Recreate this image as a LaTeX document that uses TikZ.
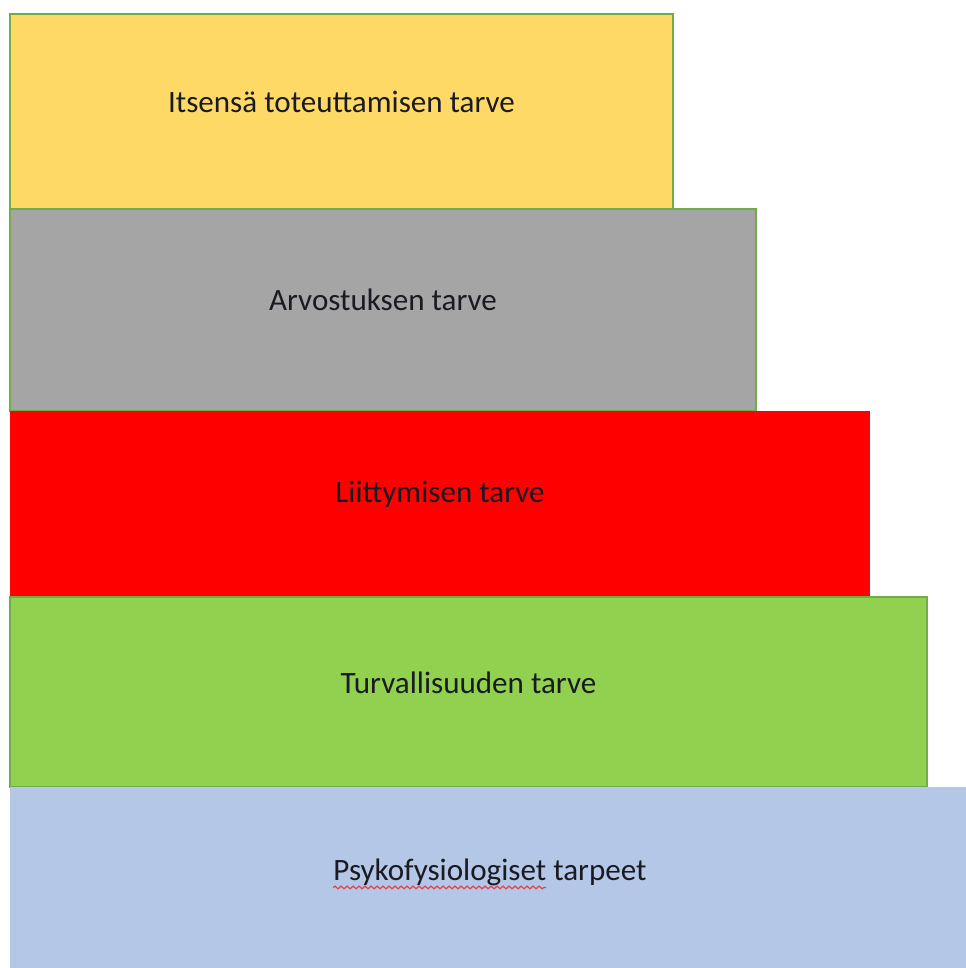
\documentclass[tikz,border=0pt]{standalone}
\usepackage{fontspec}
\setmainfont{Carlito}
\usetikzlibrary{positioning, decorations.pathmorphing}

\definecolor{lvlyellow}{HTML}{FFD966}
\definecolor{lvlgray}{HTML}{A5A5A5}
\definecolor{lvlred}{HTML}{FF0000}
\definecolor{lvlgreen}{HTML}{92D050}
\definecolor{lvlblue}{HTML}{B4C7E7}
\definecolor{edgegreen}{HTML}{70AD47}
\definecolor{txtdark}{HTML}{1A1A22}
\definecolor{wavyred}{HTML}{E8414A}

\newlength\wavyw
\settowidth\wavyw{\fontsize{23.3pt}{28pt}\selectfont Psykofysiologiset}

\begin{document}
\begin{tikzpicture}[x=0.75pt, y=-0.75pt,
	stepbox/.style={rectangle, draw=edgegreen, line width=2pt, inner sep=0pt, outer sep=0pt, anchor=north west},
	lbl/.style={inner sep=0pt, text=txtdark, font=\fontsize{23.3pt}{28pt}\selectfont}]
	\useasboundingbox (0,0) rectangle (966,968);
	\clip (0,0) rectangle (966,968);
	\node[stepbox, fill=lvlyellow, minimum width=497.25pt, minimum height=146.25pt] (itsensa) at (10,14) {};
	\node[stepbox, fill=lvlgray, minimum width=559.5pt, minimum height=151.5pt, below=0pt of itsensa.south west, anchor=north west] (arvostus) {};
	\node[stepbox, fill=lvlred, draw=none, minimum width=645pt, minimum height=139.5pt, below=0pt of arvostus.south west, anchor=north west] (liittyminen) {};
	\node[stepbox, fill=lvlgreen, minimum width=687.75pt, minimum height=142.5pt, below=0pt of liittyminen.south west, anchor=north west] (turva) {};
	\node[stepbox, fill=lvlblue, draw=none, minimum width=740pt, minimum height=150pt, below=0pt of turva.south west, anchor=north west] (psyko) {};
	% texts
	\node[lbl] (itsensaT) at ([yshift=7pt]itsensa.center) {Itsensä toteuttamisen tarve};
	\node[lbl] (arvostusT) at ([yshift=8pt]arvostus.center) {Arvostuksen tarve};
	\node[lbl] (liittyminenT) at ([yshift=7pt]liittyminen.center) {Liittymisen tarve};
	\node[lbl] (turvaT) at ([yshift=7pt]turva.center) {Turvallisuuden tarve};
	\node[lbl] (psykoT) at (490,872) {Psykofysiologiset tarpeet};
	\draw[wavyred, line width=0.9pt, decorate, decoration={snake, amplitude=1pt, segment length=4.5pt}]
		([yshift=-5.5pt]psykoT.base west) -- ++(\wavyw,0);
\end{tikzpicture}
\end{document}
